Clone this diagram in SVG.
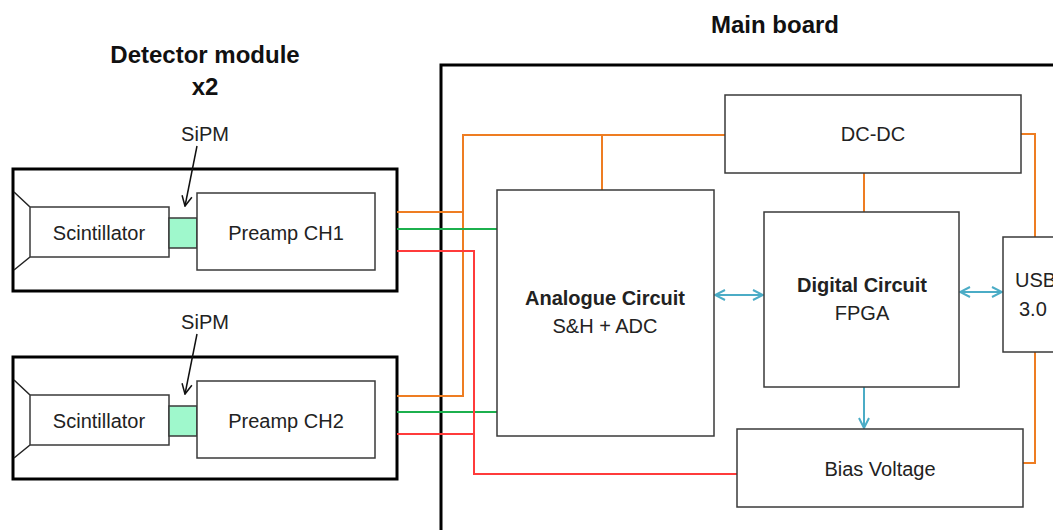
<svg xmlns="http://www.w3.org/2000/svg" width="1053" height="530" viewBox="0 0 1053 530">
<style>
.t{font-family:"Liberation Sans",Arial,sans-serif;font-size:20px;fill:#222;text-anchor:middle}
.b{font-weight:bold}
.h{font-size:24px;fill:#111}
.box{fill:#fff;stroke:#3a3a3a;stroke-width:1.5}
.frame{fill:none;stroke:#000;stroke-width:3}
.or{fill:none;stroke:#ee7d22;stroke-width:2}
.gr{fill:none;stroke:#1cb04e;stroke-width:2}
.rd{fill:none;stroke:#ff3b3b;stroke-width:2}
.bl{fill:none;stroke:#4bacc6;stroke-width:2}
</style>
<defs>
<marker id="ah" viewBox="0 0 12 12" refX="11" refY="6" markerWidth="12" markerHeight="12" markerUnits="userSpaceOnUse" orient="auto-start-reverse">
<polyline points="1,1 11,6 1,11" fill="none" stroke="#4bacc6" stroke-width="2"/>
</marker>
<marker id="ak" viewBox="0 0 12 12" refX="11" refY="6" markerWidth="12" markerHeight="12" markerUnits="userSpaceOnUse" orient="auto">
<polyline points="1,1 11,6 1,11" fill="none" stroke="#111" stroke-width="1.5"/>
</marker>
</defs>

<text class="t b h" x="205" y="63">Detector module</text>
<text class="t b h" x="205" y="95">x2</text>
<text class="t b h" x="775" y="33">Main board</text>

<g id="main-board"><path class="frame" d="M441,530 V65 H1053"/></g>

<g id="detector1">
<rect class="frame" x="13" y="169" width="384" height="122"/>
<path d="M14,192 L30,207 M30,257 L14,270" stroke="#222" stroke-width="1.5" fill="none"/>
<g id="scint1"><rect class="box" x="30" y="207" width="139" height="50"/><text class="t" x="99" y="240">Scintillator</text></g>
<g id="sipm1"><rect x="169" y="218" width="28" height="30" fill="#9ff8cc" stroke="#3a3a3a" stroke-width="1.5"/></g>
<g id="preamp1"><rect class="box" x="197" y="193" width="178" height="77"/><text class="t" x="286" y="240">Preamp CH1</text></g>
<text class="t" x="205" y="141">SiPM</text>
</g>

<g id="detector2">
<rect class="frame" x="13" y="357" width="384" height="122"/>
<path d="M14,380 L30,395 M30,445 L14,458" stroke="#222" stroke-width="1.5" fill="none"/>
<g id="scint2"><rect class="box" x="30" y="395" width="139" height="50"/><text class="t" x="99" y="428">Scintillator</text></g>
<g id="sipm2"><rect x="169" y="406" width="28" height="30" fill="#9ff8cc" stroke="#3a3a3a" stroke-width="1.5"/></g>
<g id="preamp2"><rect class="box" x="197" y="381" width="178" height="77"/><text class="t" x="286" y="428">Preamp CH2</text></g>
<text class="t" x="205" y="329">SiPM</text>
</g>

<g id="connectors">
<line x1="197" y1="146" x2="185" y2="206" stroke="#111" stroke-width="1.5" marker-end="url(#ak)"/>
<line x1="197" y1="334" x2="185" y2="394" stroke="#111" stroke-width="1.5" marker-end="url(#ak)"/>
<path class="or" d="M397,212 H463 M397,396 H463 V135 H725 M602,135 V190 M1021,134 H1035 V237 M864,173 V212 M1035,352 V463 H1023"/>
<path class="gr" d="M397,229 H497 M397,412 H497"/>
<path class="rd" d="M397,251 H474 V474 H737 M397,434 H474"/>
<line class="bl" x1="715" y1="295" x2="763" y2="295" marker-start="url(#ah)" marker-end="url(#ah)"/>
<line class="bl" x1="960" y1="292" x2="1002" y2="292" marker-start="url(#ah)" marker-end="url(#ah)"/>
<line class="bl" x1="864" y1="387" x2="864" y2="428" marker-end="url(#ah)"/>
</g>

<g id="analogue"><rect class="box" x="497" y="190" width="217" height="246"/>
<text class="t b" x="605" y="305">Analogue Circuit</text>
<text class="t" x="605" y="333">S&amp;H + ADC</text></g>

<g id="dcdc"><rect class="box" x="725" y="95" width="296" height="78"/><text class="t" x="873" y="141">DC-DC</text></g>

<g id="digital"><rect class="box" x="764" y="212" width="195" height="175"/>
<text class="t b" x="862" y="292">Digital Circuit</text>
<text class="t" x="862" y="320">FPGA</text></g>

<g id="usb"><rect class="box" x="1003" y="237" width="60" height="115"/>
<text class="t" x="1015" y="287" style="text-anchor:start">USB</text>
<text class="t" x="1019" y="316" style="text-anchor:start">3.0</text></g>

<g id="bias"><rect class="box" x="737" y="429" width="286" height="78"/><text class="t" x="880" y="476">Bias Voltage</text></g>
</svg>
